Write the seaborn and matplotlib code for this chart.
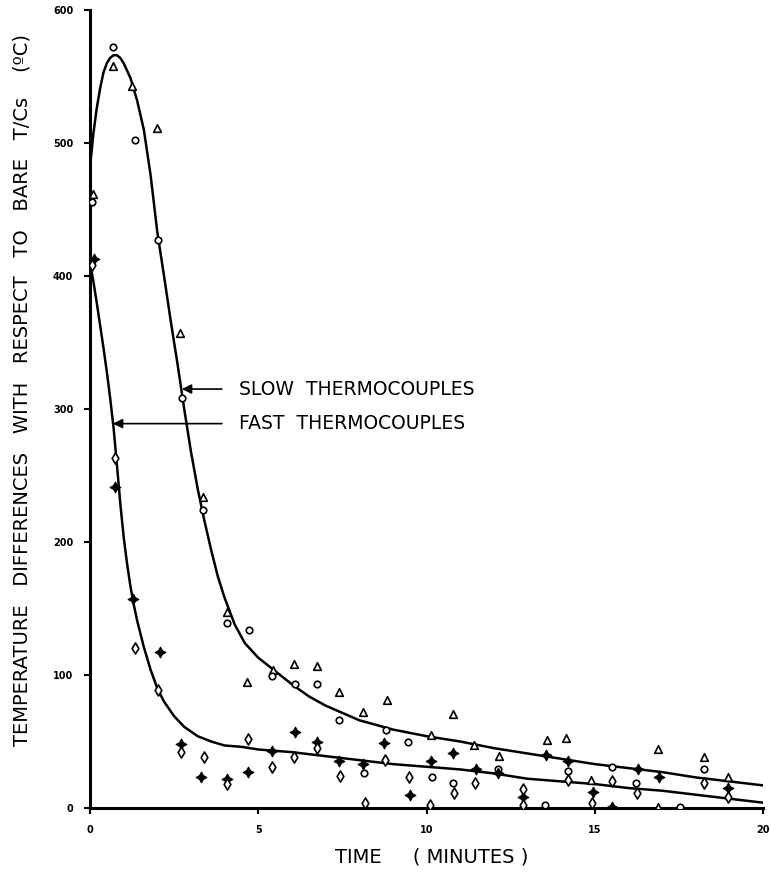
import matplotlib
matplotlib.use("Agg")
import matplotlib.pyplot as plt
import seaborn as sns

# ---------------- data ----------------
slow_tri_x = [0.1, 0.68, 1.25, 1.99, 2.67, 3.36, 4.07, 4.67, 5.44, 6.06, 6.75, 7.40, 8.11, 8.83,
              10.13, 10.79, 11.41, 12.15, 13.58, 14.14, 14.89, 16.88, 18.25, 18.96, 16.88]
slow_tri_y = [462, 558, 543, 511, 357, 234, 147, 95, 104, 108, 107, 87, 72, 81,
              55, 71, 47, 39, 51, 53, 21, 44, 38, 23, 1]

slow_circ_x = [0.06, 0.68, 1.34, 2.02, 2.73, 3.36, 4.07, 4.72, 5.41, 6.09, 6.75, 7.40, 8.80, 8.14,
               9.45, 10.16, 10.79, 12.12, 13.52, 14.2, 15.51, 16.23, 17.53, 18.25]
slow_circ_y = [456, 572, 502, 427, 308, 224, 139, 134, 99, 93, 93, 66, 59, 26,
               50, 23, 19, 29, 2, 28, 31, 19, 1, 29]

fast_plus_x = [0.12, 0.74, 1.28, 2.08, 2.70, 3.30, 4.07, 4.70, 5.41, 6.09, 6.75, 7.40, 8.11, 8.74,
               9.51, 10.13, 10.79, 11.47, 12.12, 12.87, 13.55, 14.2, 14.95, 15.51, 16.28, 16.91, 18.96]
fast_plus_y = [413, 241, 157, 117, 48, 23, 22, 27, 43, 57, 50, 35, 33, 49,
               10, 35, 41, 29, 26, 8, 40, 35, 12, 1, 29, 23, 15]

fast_open_x = [0.06, 0.74, 1.34, 2.02, 2.70, 3.39, 4.07, 4.70, 5.41, 6.06, 6.75, 7.43, 8.17, 8.77,
               9.48, 10.10, 10.82, 11.44, 12.87, 12.87, 14.2, 14.92, 15.51, 16.25, 18.25, 18.96]
fast_open_y = [408, 263, 120, 89, 42, 38, 18, 52, 31, 38, 45, 24, 4, 36,
               23, 2, 11, 19, 14, 2, 21, 4, 20, 11, 19, 8]

slow_curve_x = [0, 0.1, 0.2, 0.3, 0.4, 0.5, 0.6, 0.7, 0.8, 0.9, 1.0, 1.2, 1.4, 1.6, 1.8, 2.0,
                2.2, 2.4, 2.6, 2.8, 3.0, 3.2, 3.4, 3.6, 3.8, 4.0, 4.3, 4.6, 5.0, 5.5, 6.0, 6.5,
                7.0, 8.0, 9.0, 10.0, 11.0, 12.0, 13.0, 14.0, 15.0, 16.0, 17.0, 18.0, 19.0, 20.0]
slow_curve_y = [482, 507, 526, 541, 553, 560, 564, 566, 566, 564, 560, 549, 532, 510, 476, 433,
                400, 366, 334, 300, 268, 240, 216, 194, 174, 158, 138, 124, 113, 103, 93, 84,
                77, 66, 59, 54, 50, 45, 41, 37, 33, 30, 27, 23, 20, 17]

fast_curve_x = [0, 0.1, 0.2, 0.3, 0.4, 0.5, 0.6, 0.7, 0.8, 0.9, 1.0, 1.1, 1.2, 1.3, 1.4, 1.6,
                1.8, 2.0, 2.2, 2.5, 2.8, 3.2, 3.6, 4.0, 4.5, 5.0, 5.5, 6.0, 7.0, 8.0, 9.0, 10.0,
                11.0, 12.0, 13.0, 14.0, 15.0, 16.0, 17.0, 18.0, 19.0, 20.0]
fast_curve_y = [410, 396, 380, 363, 346, 328, 308, 286, 258, 229, 204, 184, 167, 153, 141, 121,
                104, 90, 80, 69, 61, 54, 50, 47, 46, 44, 43, 42, 39, 36, 33, 31,
                29, 26, 22, 20, 18, 15, 13, 10, 7, 4]

x_ticks = [0, 5, 10, 15, 20]
y_ticks = [0, 100, 200, 300, 400, 500, 600]
labels = {"slow": "SLOW  THERMOCOUPLES", "fast": "FAST  THERMOCOUPLES"}
arrow_tips = {"slow": (2.73, 315), "fast": (0.68, 289)}

# ---------------- figure ----------------
sns.set_theme(style="ticks")
plt.rcParams["font.family"] = ["DejaVu Sans"]

fig = plt.figure(figsize=(7.71, 8.82), dpi=100)
ax = fig.add_axes([90 / 771, 74 / 882, 673 / 771, 798 / 882])

sns.lineplot(x=slow_curve_x, y=slow_curve_y, ax=ax, color="black", lw=1.8,
             estimator=None, sort=False)
sns.lineplot(x=fast_curve_x, y=fast_curve_y, ax=ax, color="black", lw=1.8,
             estimator=None, sort=False)

sns.scatterplot(x=slow_tri_x, y=slow_tri_y, ax=ax, marker="^", s=30,
                color="white", edgecolor="black", linewidth=1.2, zorder=3)
sns.scatterplot(x=slow_circ_x, y=slow_circ_y, ax=ax, marker="o", s=22,
                color="white", edgecolor="black", linewidth=1.2, zorder=3)
sns.scatterplot(x=fast_plus_x, y=fast_plus_y, ax=ax, marker=(4, 1, 0), s=60,
                color="black", edgecolor="black", linewidth=0.8, zorder=3)
sns.scatterplot(x=fast_open_x, y=fast_open_y, ax=ax, marker="d", s=32,
                color="white", edgecolor="black", linewidth=1.2, zorder=3)

for key, ytxt in (("slow", 315), ("fast", 289)):
    tip = arrow_tips[key]
    ax.annotate("", xy=tip, xytext=(3.92, ytxt),
                arrowprops=dict(arrowstyle="-|>", color="black", lw=1.2,
                                mutation_scale=14, shrinkA=0, shrinkB=0))
    ax.text(4.43, ytxt, labels[key], ha="left", va="center", fontsize=13.5,
            color="black")

ax.set_xlim(0, 20)
ax.set_ylim(0, 600)
ax.set_xticks(x_ticks)
ax.set_yticks(y_ticks)
ax.set_xticklabels([str(v) for v in x_ticks], fontsize=7, fontweight="bold")
ax.set_yticklabels([str(v) for v in y_ticks], fontsize=7, fontweight="bold")
ax.tick_params(direction="out", length=4, width=1.5, colors="black")
ax.tick_params(axis="y", pad=8)
ax.tick_params(axis="x", pad=8)
ax.set_xlabel("")
ax.set_ylabel("")
for side in ("top", "right"):
    ax.spines[side].set_visible(False)
for side in ("left", "bottom"):
    ax.spines[side].set_linewidth(2.2)
    ax.spines[side].set_color("black")
ax.set_facecolor("white")
fig.patch.set_facecolor("white")

fig.text(22 / 771, 1 - 390 / 882,
         "TEMPERATURE   DIFFERENCES   WITH   RESPECT   TO   BARE   T/Cs    (ºC)",
         rotation=90, ha="center", va="center", fontsize=14, color="black")
fig.text(432 / 771, 1 - 857 / 882, "TIME     ( MINUTES )", ha="center",
         va="center", fontsize=14, color="black")

fig.savefig("out.png", dpi=100, facecolor="white")
